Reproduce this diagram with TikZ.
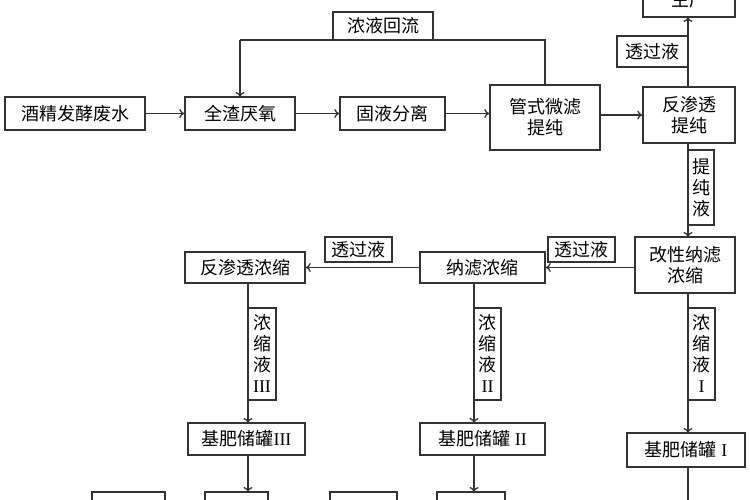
\documentclass[tikz,border=0pt]{standalone}
\usepackage{fontspec}
\usetikzlibrary{arrows.meta}
\newfontfamily\cjk{Noto Sans CJK SC}
\newfontfamily\rom{Liberation Serif}
\begin{document}
\begin{tikzpicture}[x=1pt,y=-1pt,
 bx/.style={draw=black!80,line width=1.5pt,fill=white,font=\cjk\fontsize{18}{21}\selectfont,align=center,inner sep=0pt},
 ar/.style={draw=black!80,line width=1.3pt,-{To[length=5pt,width=9pt]}},
 ln/.style={draw=black!80,line width=1.3pt}]
\useasboundingbox (0,0) rectangle (750,500);
\clip (0,0) rectangle (750,500);
\newcommand\bxat[6]{\node[bx,minimum width=#3-#1,minimum height=#4-#2] (#5) at ({(#1+#3)/2},{(#2+#4)/2}) {#6};}
\bxat{5}{97}{145}{130}{a}{酒精发酵废水}
\bxat{185}{97}{295}{130}{b}{全渣厌氧}
\bxat{340}{97}{445}{130}{c}{固液分离}
\bxat{490}{85}{600}{150}{d}{管式微滤\\提纯}
\bxat{643}{87}{735}{143}{e}{反渗透\\提纯}
\bxat{643}{-24}{735}{17}{top}{\\生产}
\bxat{617}{36}{688}{67}{l1}{透过液}
\bxat{635}{237}{735}{293}{f}{改性纳滤\\浓缩}
\bxat{420}{252}{545}{283}{g}{纳滤浓缩}
\bxat{185}{252}{305}{283}{h}{反渗透浓缩}
\bxat{188}{423}{305}{455}{k3}{基肥储罐{\rom III}}
\bxat{420}{423}{545}{455}{k2}{基肥储罐{\rom\ II}}
\bxat{627}{433}{745}{467}{k1}{基肥储罐{\rom\ I}}
\draw[ar] (a) -- (b);
\draw[ar] (b) -- (c);
\draw[ar] (c) -- (d.west|-c);
\draw[ar] (d.east|-e) -- (e);
\draw[ar] (688,87) -- (688,17);
\draw[ln] (545,85) -- (545,40) -- (240,40);
\draw[ar] (240,40) -- (240,97);
\bxat{333}{12}{433}{40}{l0}{浓液回流}
\draw[ar] (688,143) -- (688,237);
\bxat{688}{150}{714}{225}{l2}{提\\纯\\液}
\draw[ar] (f.west|-g) -- (g);
\bxat{548}{237}{615}{262}{l3}{透过液}
\draw[ar] (g) -- (h);
\bxat{325}{237}{392}{262}{l4}{透过液}
\draw[ar] (248,283) -- (248,423);
\bxat{248}{308}{276}{400}{l5}{浓\\缩\\液\\{\rom III}}
\draw[ar] (474,283) -- (474,423);
\bxat{474}{308}{501}{400}{l6}{浓\\缩\\液\\{\rom II}}
\draw[ar] (688,293) -- (688,433);
\bxat{688}{308}{715}{400}{l7}{浓\\缩\\液\\{\rom I}}
\draw[ar] (248,455) -- (248,492);
\draw[ar] (474,455) -- (474,492);
\draw[ar] (688,467) -- (688,505);
\bxat{92}{492}{165}{520}{p1}{}
\bxat{205}{492}{268}{520}{p2}{}
\bxat{330}{492}{397}{520}{p3}{}
\bxat{437}{492}{505}{520}{p4}{}
\end{tikzpicture}
\end{document}
